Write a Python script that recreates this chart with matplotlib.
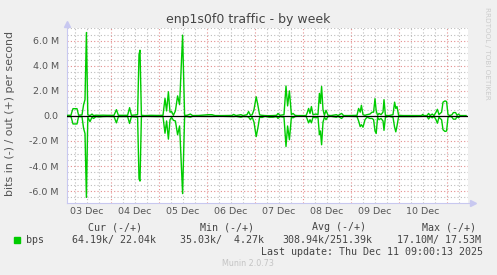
import matplotlib
matplotlib.use("Agg")
import matplotlib.pyplot as plt
import numpy as np

# hours since 03 Dec 00:00, values in Mbit/s
hours = [2.0, 4.0, 4.4, 5.0, 7.0, 7.8, 9.5, 10.3, 11.0, 11.7, 12.4, 13.5, 14.5, 15.3, 16.5, 18.0,
         20.0, 22.0, 25.5, 26.7, 27.7, 32.3, 33.3, 34.2, 37.3, 38.0, 38.5, 39.2, 41.0, 44.0, 47.0,
         50.0, 51.0, 51.8, 52.7, 53.5, 54.3, 55.2, 56.2, 57.3, 58.3, 59.8, 60.8, 62.0, 63.7, 64.8,
         68.0, 72.8, 74.5, 76.0, 80.0, 84.5, 85.3, 86.5, 89.0, 90.0, 92.0, 92.8, 93.7, 94.6, 95.5,
         96.6, 97.5, 98.3, 99.5, 101.0, 103.0, 105.0, 106.8, 107.5, 108.5, 110.5, 111.5, 112.3,
         113.2, 114.2, 115.0, 116.0, 117.0, 121.5, 122.0, 122.8, 123.5, 124.2, 125.0, 126.5, 127.5,
         128.2, 128.7, 129.3, 130.0, 130.7, 131.5, 132.5, 134.0, 136.7, 137.5, 139.3, 140.3, 143.0,
         147.0, 147.8, 148.6, 149.2, 150.0, 151.0, 152.0, 153.5, 154.5, 155.3, 156.0, 156.6, 157.3,
         158.0, 159.0, 160.0, 160.5, 161.2, 163.0, 165.0, 165.8, 166.4, 167.0, 167.8, 170.0, 175.0,
         179.3, 179.8, 180.5, 182.0, 182.8, 183.6, 184.6, 185.5, 186.5, 187.2, 188.0, 188.6, 189.3,
         190.0, 191.0, 191.8, 192.5, 193.5, 194.5, 195.2, 196.3, 197.0, 197.8, 198.5, 201.5]
bps_out = [0.05, 0.05, 0.3, 0.58, 0.58, 0.06, 0.08, 0.9, 1.3, 6.66, 0.1, 0.02, 0.15, 0.03, 0.06, 0.05,
           0.06, 0.05, 0.05, 0.5, 0.05, 0.05, 0.66, 0.05, 0.1, 4.9, 5.25, 0.05, 0.03, 0.05, 0.04,
           0.05, 1.4, 0.4, 1.93, 0.3, 0.35, 0.05, 0.4, 1.6, 0.9, 6.45, 0.05, 0.05, 0.15, 0.03,
           0.04, 0.1, 0.1, 0.03, 0.03, 0.04, 0.12, 0.03, 0.1, 0.03, 0.1, 0.35, 0.05, 0.1, 0.5,
           1.53, 0.8, 0.08, 0.05, 0.03, 0.02, 0.03, 0.05, 0.2, 0.05, 0.1, 2.39, 0.8,
           2.0, 0.1, 0.2, 0.05, 0.03, 0.03, 0.2, 0.6, 0.2, 0.75, 0.1, 0.15, 0.1,
           1.8, 1.0, 2.35, 0.5, 0.05, 0.45, 0.05, 0.03, 0.1, 0.03, 0.2, 0.03, 0.03,
           0.05, 0.6, 0.3, 0.85, 0.1, 0.05, 0.1, 0.15, 0.3, 0.3, 1.38, 0.4, 0.05,
           0.2, 0.1, 0.3, 1.3, 0.05, 0.03, 0.1, 1.1, 0.6, 0.75, 0.05, 0.03, 0.03,
           0.03, 0.12, 0.03, 0.03, 0.2, 0.03, 0.15, 0.03, 0.3, 0.53, 0.1, 0.2, 0.3,
           1.1, 1.2, 1.15, 0.1, 0.03, 0.1, 0.27, 0.27, 0.05, 0.15, 0.03, 0.03]
bps_in = [0.04, 0.05, 0.3, 0.64, 0.64, 0.05, 0.06, 1.0, 1.4, 6.5, 0.1, 0.45, 0.1, 0.2, 0.05, 0.08,
          0.05, 0.04, 0.05, 0.55, 0.05, 0.05, 0.6, 0.05, 0.1, 5.0, 5.2, 0.05, 0.03, 0.04, 0.05,
          0.05, 1.38, 0.4, 1.85, 0.3, 0.1, 0.35, 0.4, 1.5, 0.8, 6.2, 0.05, 0.05, 0.1, 0.03,
          0.03, 0.04, 0.03, 0.03, 0.03, 0.04, 0.05, 0.03, 0.1, 0.05, 0.05, 0.1, 0.3, 0.1, 0.5,
          1.65, 0.9, 0.1, 0.12, 0.03, 0.1, 0.1, 0.05, 0.2, 0.05, 0.1, 2.44, 0.8,
          1.9, 0.1, 0.15, 0.05, 0.03, 0.03, 0.2, 0.55, 0.3, 0.55, 0.1, 0.15, 0.1,
          1.5, 1.2, 2.3, 0.5, 0.1, 0.3, 0.05, 0.03, 0.1, 0.03, 0.2, 0.03, 0.03,
          0.05, 0.4, 0.85, 0.7, 0.9, 0.3, 0.1, 0.2, 0.2, 0.3, 1.2, 1.4, 0.1,
          0.3, 0.2, 0.4, 1.15, 0.1, 0.03, 0.1, 0.9, 1.27, 0.8, 0.05, 0.05, 0.05,
          0.03, 0.03, 0.03, 0.03, 0.25, 0.03, 0.15, 0.03, 0.3, 0.58, 0.1, 0.2, 0.3,
          1.1, 1.24, 1.2, 0.1, 0.03, 0.1, 0.26, 0.26, 0.05, 0.15, 0.03, 0.03]

day_labels = ["03 Dec", "04 Dec", "05 Dec", "06 Dec", "07 Dec", "08 Dec", "09 Dec", "10 Dec"]
y_ticks = [-6, -4, -2, 0, 2, 4, 6]

legend_head = ["Cur (-/+)", "Min (-/+)", "Avg (-/+)", "Max (-/+)"]
legend_vals = ["64.19k/ 22.04k", "35.03k/  4.27k", "308.94k/251.39k", "17.10M/ 17.53M"]
last_update = "Last update: Thu Dec 11 09:00:13 2025"

W, H = 497, 275
fig = plt.figure(figsize=(W / 100, H / 100), dpi=100, facecolor="#f0f0f0")
ax = fig.add_axes([67 / W, 1 - 203 / H, 401 / W, 175 / H])
ax.set_facecolor("white")

xmin, xmax = 2.0, 202.5
ymin, ymax = -6.95, 7.02
ax.set_xlim(xmin, xmax)
ax.set_ylim(ymin, ymax)

# rrdtool style grid: grey dots every 6h / 0.5M, red dots every day / 2M
minor_c = "#bdbdbd"
major_c = "#e58e8e"
dots = (0, (1, 2))
for h in np.arange(6, xmax, 6):
    c = major_c if h % 24 == 0 else minor_c
    ax.axvline(h, color=c, lw=0.8, ls=dots, zorder=1)
for v in np.arange(-6.5, 7.01, 0.5):
    c = major_c if v % 2 == 0 else minor_c
    ax.axhline(v, color=c, lw=0.8, ls=dots, zorder=1)

h = np.array(hours)
ax.plot(h, np.array(bps_out), color="#00cc00", lw=1.0, zorder=3)
ax.plot(h, -np.array(bps_in), color="#00cc00", lw=1.0, zorder=3)
ax.axhline(0, color="black", lw=0.9, zorder=4)

for s in ax.spines.values():
    s.set_visible(False)
axc = "#c8c8f0"
ax.plot([0, 0], [0, 1.02], transform=ax.transAxes, color=axc, lw=0.8, clip_on=False)
ax.plot([0, 1.01], [0, 0], transform=ax.transAxes, color=axc, lw=0.8, clip_on=False)
ax.plot([0], [1.025], transform=ax.transAxes, marker="^", ms=5, color=axc, clip_on=False)
ax.plot([1.012], [0], transform=ax.transAxes, marker=">", ms=5, color=axc, clip_on=False)

ax.set_xticks([12 + 24 * i for i in range(len(day_labels))])
ax.set_xticklabels(day_labels)
ax.set_yticks(y_ticks)
ax.set_yticklabels([f"{v:.1f} M" if v != 0 else "0.0" for v in y_ticks])
ax.tick_params(length=0, labelsize=6.8, colors="#555555")
ax.tick_params(axis="x", pad=3)
ax.tick_params(axis="y", pad=6)

fig.text(0.5, 1 - 19 / H, "enp1s0f0 traffic - by week", ha="center", va="center",
         fontsize=9, color="#444444")
fig.text(10 / W, 1 - 114 / H, "bits in (-) / out (+) per second", rotation=90,
         ha="center", va="center", fontsize=7.9, color="#555555")
fig.text(486.7 / W, 1 - 53.5 / H, "RRDTOOL / TOBI OETIKER", rotation=270,
         ha="center", va="center", fontsize=5.2, color="#cccccc")
fig.text(248 / W, 1 - 264 / H, "Munin 2.0.73", ha="center", va="center",
         fontsize=5.8, color="#c4c4c4")

mono = dict(family="DejaVu Sans Mono", fontsize=7.2, color="#444444", va="center")
for txt, x in zip(legend_head, [88.5, 200.5, 311.5, 422]):
    fig.text(x / W, 1 - 227 / H, txt, **mono)
for txt, x in zip(legend_vals, [72, 179.7, 282.7, 397]):
    fig.text(x / W, 1 - 240 / H, txt, **mono)
fig.text(26 / W, 1 - 240 / H, "bps", **mono)
fig.text(261 / W, 1 - 251.7 / H, last_update, **mono)
fig.patches.append(plt.Rectangle((14 / W, 1 - 243 / H), 6 / W, 6 / H,
                                 transform=fig.transFigure, color="#00cc00"))

fig.savefig("out.png", dpi=100, facecolor=fig.get_facecolor())
